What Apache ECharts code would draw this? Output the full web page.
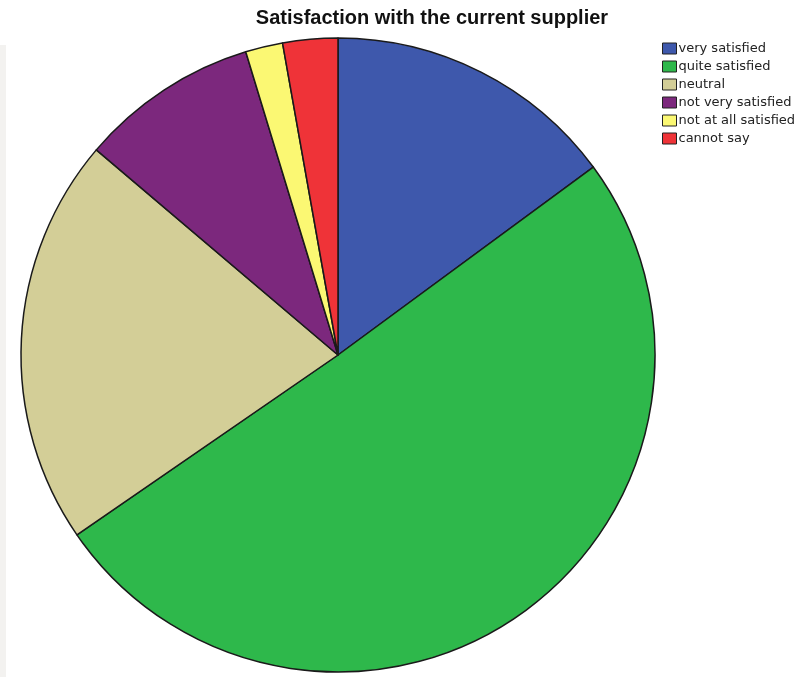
<!DOCTYPE html>
<html><head><meta charset="utf-8">
<script src="https://cdn.jsdelivr.net/npm/echarts@6/dist/echarts.min.js"></script>
<style>html,body{margin:0;padding:0;background:#fff}#c{width:811px;height:677px}</style>
</head><body><div id="c"></div>
<script>
const categories = ["very satisfied","quite satisfied","neutral","not very satisfied","not at all satisfied","cannot say"];
const values = [14.9, 50.5, 20.8, 9.1, 1.9, 2.8];
const colors = ["#3E58AC","#2EB84B","#D3CE97","#7C287D","#FBF873","#EF3338"];
const chart = echarts.init(document.getElementById('c'), null, {renderer:'canvas'});
chart.setOption({
  animation:false,
  backgroundColor:'#fff',
  graphic:[{type:'rect', left:0, top:45, shape:{width:6, height:632}, style:{fill:'#f3f2f0'}, silent:true}],
  title:{text:'Satisfaction with the current supplier', left:427, textAlign:'center', top:3,
    textStyle:{fontFamily:'Liberation Sans, Arial, sans-serif', fontSize:20, fontWeight:'bold', color:'#111'}},
  legend:{orient:'vertical', left:657, top:37, itemWidth:14, itemHeight:11, itemGap:5,
    icon:'rect',
    itemStyle:{borderColor:'#222', borderWidth:1},
    textStyle:{fontFamily:'DejaVu Sans, sans-serif', fontSize:13, color:'#222', padding:[0,0,0,-3]},
    data:categories},
  series:[{type:'pie', center:[338,355], radius:317, startAngle:90, clockwise:true,
    label:{show:false}, labelLine:{show:false},
    itemStyle:{borderColor:'#1a1a1a', borderWidth:1.5},
    emphasis:{disabled:true},
    data:categories.map((n,i)=>({name:n, value:values[i], itemStyle:{color:colors[i]}}))}]
});
</script></body></html>
